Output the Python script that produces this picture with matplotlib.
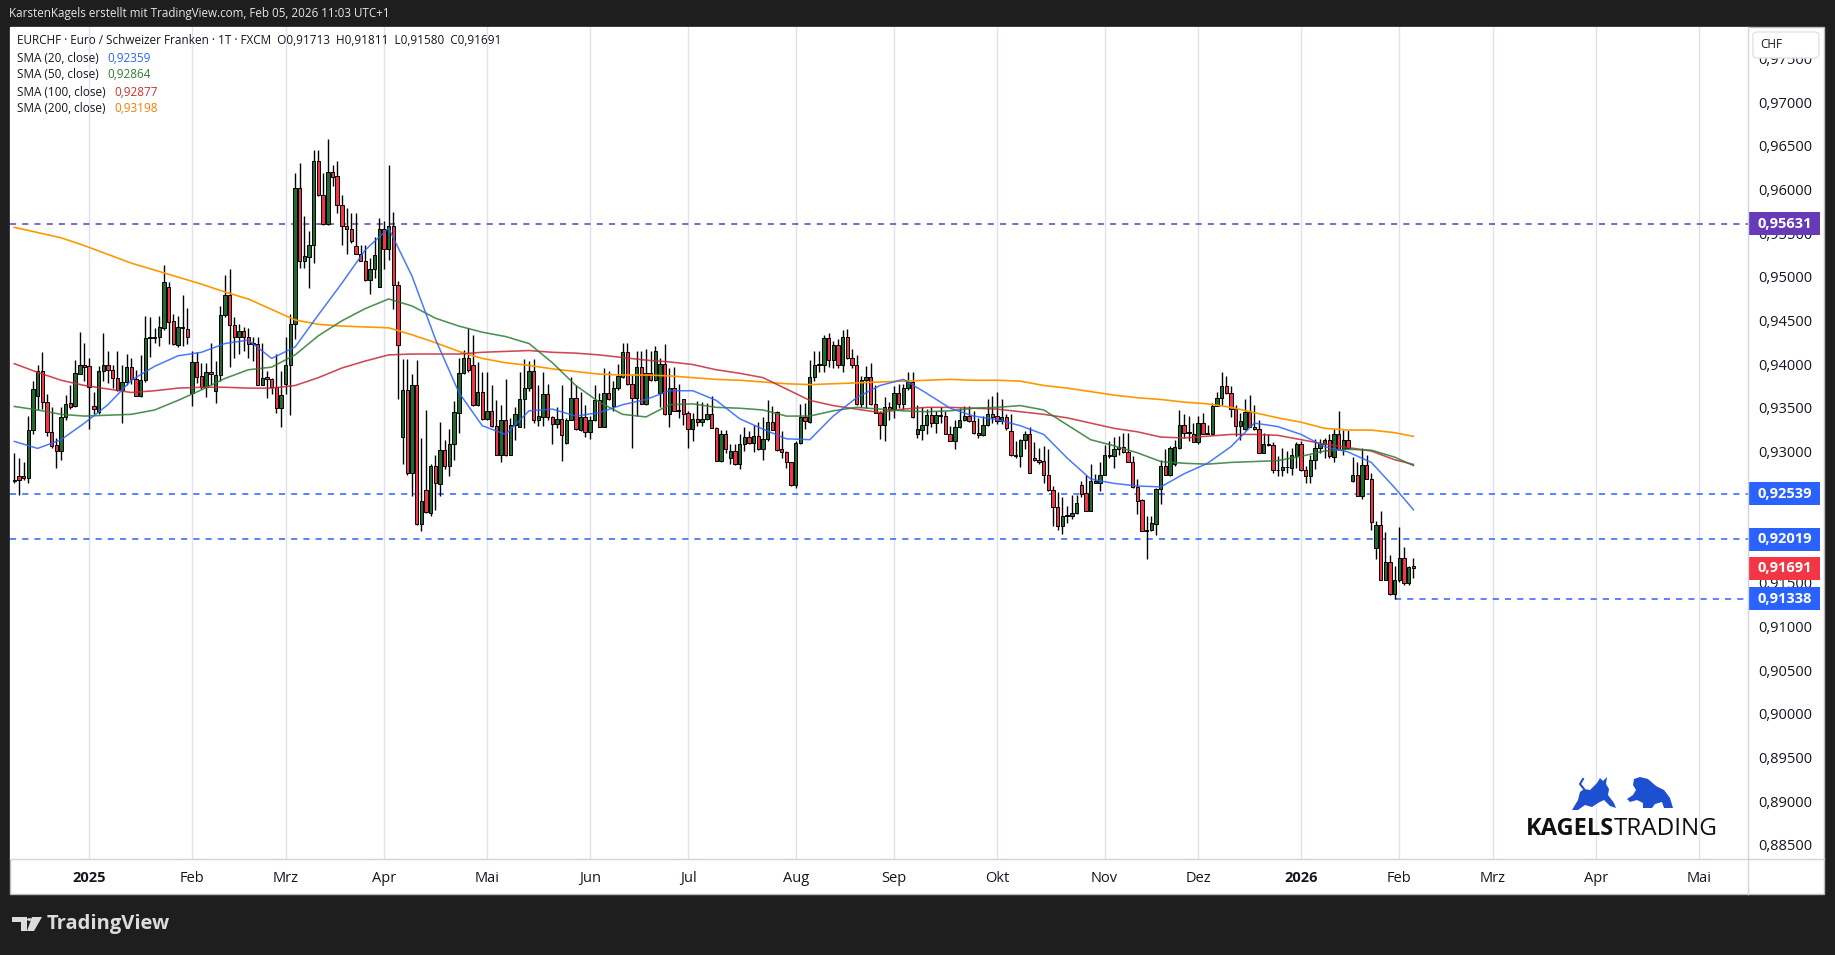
import matplotlib
matplotlib.use('Agg')
import matplotlib.pyplot as plt
from matplotlib.patches import Rectangle, FancyBboxPatch, Polygon, Circle
import numpy as np
import pandas as pd

plt.rcParams['font.family'] = ['Open Sans', 'DejaVu Sans']

W, H = 1835, 955

# EURCHF daily candles, 09.12.2024 - 05.02.2026
opens = [
    0.9270, 0.9274, 0.9274, 0.9272, 0.9327, 0.9366, 0.9395, 0.9359, 0.9325, 0.9310,
    0.9303, 0.9342, 0.9358, 0.9354, 0.9391, 0.9401, 0.9400, 0.9355, 0.9348, 0.9395,
    0.9401, 0.9396, 0.9387, 0.9373, 0.9382, 0.9399, 0.9385, 0.9366, 0.9384, 0.9432,
    0.9433, 0.9433, 0.9444, 0.9491, 0.9452, 0.9424, 0.9445, 0.9443, 0.9369, 0.9405,
    0.9389, 0.9376, 0.9393, 0.9372, 0.9390, 0.9459, 0.9482, 0.9447, 0.9433, 0.9440,
    0.9433, 0.9426, 0.9426, 0.9379, 0.9388, 0.9385, 0.9376, 0.9352, 0.9380, 0.9401,
    0.9448, 0.9604, 0.9521, 0.9525, 0.9539, 0.9635, 0.9596, 0.9563, 0.9622, 0.9618,
    0.9584, 0.9561, 0.9557, 0.9538, 0.9529, 0.9520, 0.9499, 0.9511, 0.9491, 0.9557,
    0.9534, 0.9561, 0.9493, 0.9319, 0.9373, 0.9278, 0.9379, 0.9219, 0.9258, 0.9232,
    0.9286, 0.9265, 0.9304, 0.9286, 0.9311, 0.9347, 0.9392, 0.9409, 0.9401, 0.9356,
    0.9370, 0.9340, 0.9349, 0.9332, 0.9299, 0.9339, 0.9299, 0.9333, 0.9330, 0.9363,
    0.9375, 0.9395, 0.9339, 0.9342, 0.9368, 0.9342, 0.9334, 0.9340, 0.9312, 0.9339,
    0.9364, 0.9327, 0.9342, 0.9325, 0.9338, 0.9361, 0.9331, 0.9369, 0.9354, 0.9375,
    0.9388, 0.9416, 0.9380, 0.9364, 0.9399, 0.9357, 0.9392, 0.9384, 0.9369, 0.9403,
    0.9345, 0.9375, 0.9349, 0.9362, 0.9346, 0.9328, 0.9340, 0.9336, 0.9340, 0.9345,
    0.9329, 0.9292, 0.9322, 0.9295, 0.9303, 0.9288, 0.9311, 0.9319, 0.9312, 0.9320,
    0.9305, 0.9317, 0.9336, 0.9348, 0.9305, 0.9302, 0.9290, 0.9264, 0.9312, 0.9342,
    0.9336, 0.9388, 0.9402, 0.9402, 0.9432, 0.9407, 0.9424, 0.9402, 0.9433, 0.9409,
    0.9402, 0.9357, 0.9384, 0.9388, 0.9357, 0.9347, 0.9333, 0.9353, 0.9351, 0.9369,
    0.9357, 0.9375, 0.9382, 0.9322, 0.9327, 0.9333, 0.9344, 0.9335, 0.9344, 0.9343,
    0.9323, 0.9315, 0.9330, 0.9338, 0.9343, 0.9337, 0.9324, 0.9321, 0.9333, 0.9345,
    0.9343, 0.9337, 0.9342, 0.9326, 0.9299, 0.9297, 0.9316, 0.9322, 0.9295, 0.9293,
    0.9292, 0.9276, 0.9258, 0.9239, 0.9217, 0.9229, 0.9229, 0.9232, 0.9264, 0.9255,
    0.9234, 0.9267, 0.9267, 0.9276, 0.9298, 0.9297, 0.9305, 0.9308, 0.9302, 0.9291,
    0.9262, 0.9247, 0.9213, 0.9213, 0.9220, 0.9259, 0.9286, 0.9276, 0.9288, 0.9307,
    0.9333, 0.9324, 0.9323, 0.9313, 0.9335, 0.9323, 0.9323, 0.9355, 0.9364, 0.9377,
    0.9369, 0.9351, 0.9332, 0.9328, 0.9348, 0.9331, 0.9328, 0.9301, 0.9311, 0.9310,
    0.9281, 0.9281, 0.9285, 0.9284, 0.9297, 0.9311, 0.9281, 0.9274, 0.9293, 0.9306,
    0.9311, 0.9316, 0.9296, 0.9322, 0.9305, 0.9316, 0.9269, 0.9276, 0.9252, 0.9287,
    0.9271, 0.9192, 0.9218, 0.9156, 0.9176, 0.9139, 0.9155, 0.9181, 0.9152, 0.91713,
]
highs = [
    0.9301, 0.9295, 0.9290, 0.9343, 0.9383, 0.9402, 0.9416, 0.9368, 0.9353, 0.9318,
    0.9353, 0.9367, 0.9379, 0.9407, 0.9439, 0.9427, 0.9410, 0.9371, 0.9400, 0.9438,
    0.9417, 0.9401, 0.9417, 0.9402, 0.9414, 0.9410, 0.9396, 0.9413, 0.9457, 0.9456,
    0.9444, 0.9457, 0.9516, 0.9496, 0.9460, 0.9457, 0.9482, 0.9467, 0.9418, 0.9416,
    0.9404, 0.9404, 0.9427, 0.9406, 0.9469, 0.9505, 0.9511, 0.9456, 0.9448, 0.9445,
    0.9444, 0.9433, 0.9433, 0.9427, 0.9395, 0.9387, 0.9414, 0.9395, 0.9433, 0.9460,
    0.9621, 0.9633, 0.9572, 0.9555, 0.9647, 0.9647, 0.9621, 0.9660, 0.9630, 0.9635,
    0.9596, 0.9581, 0.9575, 0.9575, 0.9539, 0.9539, 0.9524, 0.9548, 0.9570, 0.9566,
    0.9630, 0.9577, 0.9498, 0.9408, 0.9408, 0.9391, 0.9407, 0.9318, 0.9350, 0.9288,
    0.9299, 0.9336, 0.9316, 0.9328, 0.9360, 0.9410, 0.9419, 0.9444, 0.9436, 0.9405,
    0.9393, 0.9394, 0.9379, 0.9361, 0.9356, 0.9386, 0.9341, 0.9353, 0.9393, 0.9408,
    0.9406, 0.9408, 0.9379, 0.9394, 0.9380, 0.9343, 0.9353, 0.9378, 0.9341, 0.9388,
    0.9379, 0.9371, 0.9356, 0.9343, 0.9379, 0.9369, 0.9398, 0.9395, 0.9383, 0.9403,
    0.9427, 0.9427, 0.9390, 0.9417, 0.9417, 0.9420, 0.9417, 0.9423, 0.9409, 0.9426,
    0.9398, 0.9399, 0.9380, 0.9362, 0.9349, 0.9347, 0.9360, 0.9359, 0.9358, 0.9366,
    0.9330, 0.9327, 0.9327, 0.9311, 0.9311, 0.9322, 0.9330, 0.9326, 0.9333, 0.9336,
    0.9342, 0.9361, 0.9354, 0.9349, 0.9326, 0.9303, 0.9291, 0.9314, 0.9357, 0.9358,
    0.9407, 0.9417, 0.9418, 0.9436, 0.9438, 0.9429, 0.9431, 0.9441, 0.9443, 0.9420,
    0.9413, 0.9389, 0.9400, 0.9404, 0.9379, 0.9349, 0.9365, 0.9359, 0.9377, 0.9380,
    0.9380, 0.9394, 0.9394, 0.9356, 0.9353, 0.9351, 0.9353, 0.9349, 0.9353, 0.9349,
    0.9332, 0.9339, 0.9352, 0.9354, 0.9354, 0.9349, 0.9341, 0.9343, 0.9363, 0.9366,
    0.9371, 0.9362, 0.9345, 0.9345, 0.9314, 0.9317, 0.9326, 0.9330, 0.9313, 0.9307,
    0.9309, 0.9305, 0.9263, 0.9256, 0.9250, 0.9240, 0.9253, 0.9253, 0.9269, 0.9276,
    0.9288, 0.9277, 0.9290, 0.9310, 0.9315, 0.9319, 0.9320, 0.9324, 0.9324, 0.9297,
    0.9271, 0.9248, 0.9229, 0.9229, 0.9261, 0.9293, 0.9305, 0.9309, 0.9316, 0.9350,
    0.9345, 0.9343, 0.9335, 0.9343, 0.9347, 0.9333, 0.9358, 0.9371, 0.9394, 0.9389,
    0.9377, 0.9356, 0.9347, 0.9362, 0.9367, 0.9356, 0.9338, 0.9324, 0.9323, 0.9313,
    0.9297, 0.9306, 0.9303, 0.9307, 0.9313, 0.9314, 0.9286, 0.9299, 0.9317, 0.9317,
    0.9318, 0.9322, 0.9328, 0.9349, 0.9327, 0.9327, 0.9296, 0.9290, 0.9306, 0.9299,
    0.9278, 0.9223, 0.9234, 0.9210, 0.9184, 0.9171, 0.9216, 0.9193, 0.9171, 0.91811,
]
lows = [
    0.9266, 0.9253, 0.9270, 0.9266, 0.9322, 0.9350, 0.9351, 0.9320, 0.9306, 0.9284,
    0.9293, 0.9339, 0.9351, 0.9353, 0.9391, 0.9383, 0.9328, 0.9345, 0.9345, 0.9383,
    0.9381, 0.9375, 0.9372, 0.9335, 0.9379, 0.9380, 0.9366, 0.9365, 0.9382, 0.9411,
    0.9427, 0.9423, 0.9442, 0.9426, 0.9424, 0.9422, 0.9423, 0.9426, 0.9355, 0.9381,
    0.9374, 0.9365, 0.9379, 0.9358, 0.9383, 0.9456, 0.9399, 0.9410, 0.9414, 0.9417,
    0.9410, 0.9406, 0.9378, 0.9378, 0.9364, 0.9368, 0.9346, 0.9331, 0.9368, 0.9344,
    0.9431, 0.9513, 0.9513, 0.9489, 0.9518, 0.9595, 0.9562, 0.9562, 0.9606, 0.9575,
    0.9539, 0.9529, 0.9541, 0.9528, 0.9520, 0.9497, 0.9483, 0.9501, 0.9491, 0.9511,
    0.9522, 0.9466, 0.9362, 0.9288, 0.9276, 0.9251, 0.9218, 0.9211, 0.9232, 0.9229,
    0.9236, 0.9251, 0.9283, 0.9274, 0.9293, 0.9324, 0.9391, 0.9394, 0.9354, 0.9354,
    0.9339, 0.9338, 0.9330, 0.9298, 0.9291, 0.9297, 0.9298, 0.9316, 0.9330, 0.9329,
    0.9372, 0.9335, 0.9332, 0.9332, 0.9338, 0.9311, 0.9329, 0.9292, 0.9311, 0.9338,
    0.9327, 0.9326, 0.9319, 0.9317, 0.9337, 0.9330, 0.9331, 0.9361, 0.9349, 0.9373,
    0.9387, 0.9379, 0.9306, 0.9343, 0.9357, 0.9356, 0.9383, 0.9383, 0.9353, 0.9344,
    0.9331, 0.9349, 0.9341, 0.9333, 0.9306, 0.9314, 0.9332, 0.9332, 0.9339, 0.9329,
    0.9292, 0.9291, 0.9301, 0.9288, 0.9287, 0.9282, 0.9303, 0.9311, 0.9302, 0.9304,
    0.9293, 0.9314, 0.9327, 0.9303, 0.9295, 0.9284, 0.9263, 0.9261, 0.9311, 0.9328,
    0.9335, 0.9383, 0.9394, 0.9394, 0.9399, 0.9398, 0.9398, 0.9394, 0.9408, 0.9398,
    0.9356, 0.9353, 0.9352, 0.9356, 0.9346, 0.9317, 0.9314, 0.9339, 0.9341, 0.9352,
    0.9351, 0.9373, 0.9341, 0.9318, 0.9316, 0.9322, 0.9330, 0.9324, 0.9335, 0.9322,
    0.9314, 0.9305, 0.9329, 0.9337, 0.9336, 0.9323, 0.9318, 0.9320, 0.9332, 0.9335,
    0.9334, 0.9334, 0.9327, 0.9297, 0.9295, 0.9285, 0.9305, 0.9278, 0.9292, 0.9288,
    0.9266, 0.9257, 0.9217, 0.9213, 0.9208, 0.9221, 0.9225, 0.9231, 0.9250, 0.9234,
    0.9234, 0.9266, 0.9257, 0.9276, 0.9295, 0.9284, 0.9298, 0.9301, 0.9290, 0.9261,
    0.9231, 0.9211, 0.9179, 0.9211, 0.9207, 0.9242, 0.9276, 0.9274, 0.9286, 0.9305,
    0.9318, 0.9314, 0.9313, 0.9311, 0.9322, 0.9322, 0.9322, 0.9355, 0.9356, 0.9368,
    0.9342, 0.9320, 0.9316, 0.9327, 0.9330, 0.9327, 0.9301, 0.9301, 0.9309, 0.9278,
    0.9274, 0.9274, 0.9278, 0.9276, 0.9284, 0.9280, 0.9266, 0.9267, 0.9283, 0.9301,
    0.9295, 0.9295, 0.9290, 0.9305, 0.9299, 0.9305, 0.9268, 0.9252, 0.9248, 0.9271,
    0.9213, 0.9179, 0.9155, 0.9155, 0.9138, 0.91338, 0.9153, 0.9150, 0.9150, 0.91580,
]
closes = [
    0.9269, 0.9270, 0.9272, 0.9327, 0.9374, 0.9395, 0.9359, 0.9325, 0.9309, 0.9303,
    0.9342, 0.9357, 0.9353, 0.9392, 0.9401, 0.9399, 0.9376, 0.9351, 0.9395, 0.9401,
    0.9396, 0.9387, 0.9373, 0.9382, 0.9399, 0.9385, 0.9366, 0.9384, 0.9432, 0.9433,
    0.9432, 0.9445, 0.9496, 0.9451, 0.9425, 0.9445, 0.9444, 0.9433, 0.9405, 0.9388,
    0.9376, 0.9393, 0.9391, 0.9390, 0.9459, 0.9482, 0.9447, 0.9433, 0.9440, 0.9433,
    0.9425, 0.9427, 0.9379, 0.9387, 0.9385, 0.9376, 0.9352, 0.9367, 0.9401, 0.9448,
    0.9604, 0.9521, 0.9526, 0.9539, 0.9635, 0.9596, 0.9563, 0.9622, 0.9617, 0.9584,
    0.9561, 0.9557, 0.9543, 0.9529, 0.9520, 0.9499, 0.9511, 0.9527, 0.9557, 0.9534,
    0.9561, 0.9493, 0.9424, 0.9373, 0.9278, 0.9379, 0.9219, 0.9246, 0.9233, 0.9286,
    0.9267, 0.9304, 0.9286, 0.9311, 0.9348, 0.9392, 0.9409, 0.9396, 0.9356, 0.9370,
    0.9340, 0.9349, 0.9332, 0.9299, 0.9339, 0.9299, 0.9333, 0.9345, 0.9363, 0.9375,
    0.9395, 0.9339, 0.9343, 0.9368, 0.9342, 0.9334, 0.9340, 0.9321, 0.9339, 0.9364,
    0.9328, 0.9342, 0.9325, 0.9338, 0.9361, 0.9331, 0.9369, 0.9362, 0.9375, 0.9389,
    0.9416, 0.9380, 0.9364, 0.9399, 0.9357, 0.9392, 0.9384, 0.9417, 0.9403, 0.9345,
    0.9375, 0.9349, 0.9350, 0.9345, 0.9328, 0.9340, 0.9336, 0.9340, 0.9345, 0.9329,
    0.9292, 0.9322, 0.9305, 0.9303, 0.9288, 0.9311, 0.9319, 0.9312, 0.9320, 0.9305,
    0.9317, 0.9336, 0.9327, 0.9304, 0.9302, 0.9290, 0.9264, 0.9312, 0.9342, 0.9337,
    0.9388, 0.9402, 0.9402, 0.9432, 0.9407, 0.9424, 0.9402, 0.9433, 0.9409, 0.9402,
    0.9357, 0.9384, 0.9388, 0.9357, 0.9347, 0.9333, 0.9353, 0.9351, 0.9369, 0.9357,
    0.9375, 0.9382, 0.9342, 0.9328, 0.9333, 0.9344, 0.9335, 0.9344, 0.9343, 0.9323,
    0.9315, 0.9331, 0.9338, 0.9343, 0.9337, 0.9324, 0.9321, 0.9333, 0.9345, 0.9342,
    0.9337, 0.9342, 0.9329, 0.9298, 0.9297, 0.9316, 0.9322, 0.9278, 0.9293, 0.9291,
    0.9276, 0.9258, 0.9239, 0.9217, 0.9229, 0.9230, 0.9232, 0.9243, 0.9254, 0.9234,
    0.9269, 0.9269, 0.9276, 0.9298, 0.9298, 0.9305, 0.9308, 0.9302, 0.9291, 0.9262,
    0.9246, 0.9211, 0.9211, 0.9221, 0.9259, 0.9286, 0.9276, 0.9307, 0.9308, 0.9333,
    0.9324, 0.9324, 0.9313, 0.9335, 0.9323, 0.9323, 0.9355, 0.9364, 0.9377, 0.9369,
    0.9351, 0.9332, 0.9337, 0.9348, 0.9331, 0.9328, 0.9301, 0.9311, 0.9310, 0.9281,
    0.9281, 0.9285, 0.9285, 0.9298, 0.9311, 0.9281, 0.9274, 0.9293, 0.9306, 0.9311,
    0.9316, 0.9297, 0.9322, 0.9305, 0.9316, 0.9306, 0.9276, 0.9252, 0.9287, 0.9271,
    0.9222, 0.9218, 0.9156, 0.9176, 0.9139, 0.9155, 0.9181, 0.9152, 0.9170, 0.91691,
]

# moving averages, read every 5th bar (+ last bar)
sma_bars = list(range(0, 300, 5)) + [299]
sma20 = [
    0.9314, 0.9306, 0.9316, 0.9335, 0.9356, 0.9384, 0.9400, 0.9412, 0.9416, 0.9426,
    0.9430, 0.9409, 0.9422, 0.9459, 0.9495, 0.9533, 0.9558, 0.9503, 0.9431, 0.9370,
    0.9332, 0.9322, 0.9349, 0.9351, 0.9343, 0.9347, 0.9356, 0.9362, 0.9372, 0.9372,
    0.9361, 0.9340, 0.9328, 0.9317, 0.9316, 0.9343, 0.9364, 0.9378, 0.9385, 0.9369,
    0.9352, 0.9343, 0.9339, 0.9332, 0.9322, 0.9295, 0.9271, 0.9266, 0.9263, 0.9262,
    0.9277, 0.9289, 0.9308, 0.9335, 0.9331, 0.9322, 0.9308, 0.9302, 0.9290, 0.9261,
    0.92359,
]
sma50 = [
    0.9354, 0.9350, 0.9345, 0.9343, 0.9344, 0.9345, 0.9350, 0.9361, 0.9373, 0.9386,
    0.9396, 0.9399, 0.9413, 0.9435, 0.9452, 0.9466, 0.9477, 0.9469, 0.9455, 0.9446,
    0.9439, 0.9434, 0.9426, 0.9404, 0.9378, 0.9359, 0.9345, 0.9342, 0.9356, 0.9357,
    0.9353, 0.9352, 0.9350, 0.9343, 0.9343, 0.9349, 0.9353, 0.9351, 0.9349, 0.9348,
    0.9349, 0.9352, 0.9353, 0.9355, 0.9350, 0.9333, 0.9316, 0.9309, 0.9301, 0.9291,
    0.9289, 0.9288, 0.9290, 0.9291, 0.9292, 0.9297, 0.9303, 0.9305, 0.9304, 0.9296,
    0.92864,
]
sma100 = [
    0.9403, 0.9393, 0.9384, 0.9378, 0.9374, 0.9370, 0.9372, 0.9375, 0.9376, 0.9376,
    0.9375, 0.9375, 0.9378, 0.9387, 0.9398, 0.9406, 0.9413, 0.9414, 0.9414, 0.9414,
    0.9416, 0.9417, 0.9418, 0.9416, 0.9415, 0.9413, 0.9410, 0.9407, 0.9405, 0.9402,
    0.9396, 0.9392, 0.9387, 0.9374, 0.9361, 0.9355, 0.9351, 0.9347, 0.9351, 0.9353,
    0.9353, 0.9352, 0.9351, 0.9348, 0.9345, 0.9341, 0.9335, 0.9329, 0.9325, 0.9319,
    0.9318, 0.9320, 0.9322, 0.9322, 0.9321, 0.9316, 0.9311, 0.9307, 0.9303, 0.9293,
    0.92877,
]
sma200 = [
    0.9559, 0.9553, 0.9547, 0.9538, 0.9528, 0.9518, 0.9510, 0.9502, 0.9494, 0.9485,
    0.9477, 0.9465, 0.9453, 0.9448, 0.9446, 0.9445, 0.9444, 0.9436, 0.9427, 0.9417,
    0.9409, 0.9404, 0.9401, 0.9397, 0.9394, 0.9391, 0.9390, 0.9390, 0.9389, 0.9387,
    0.9385, 0.9384, 0.9382, 0.9380, 0.9379, 0.9380, 0.9381, 0.9382, 0.9383, 0.9384,
    0.9385, 0.9384, 0.9384, 0.9383, 0.9378, 0.9375, 0.9371, 0.9367, 0.9364, 0.9362,
    0.9359, 0.9357, 0.9353, 0.9347, 0.9341, 0.9336, 0.9329, 0.9327, 0.9327, 0.9324,
    0.93198,
]

# price levels marked on the chart
level_purple = 0.95631
levels_blue = [0.92539, 0.92019]
level_low = 0.91338
low_bar = 295
last_close = 0.91691

month_names = {2: 'Feb', 3: 'Mrz', 4: 'Apr', 5: 'Mai', 6: 'Jun', 7: 'Jul',
               8: 'Aug', 9: 'Sep', 10: 'Okt', 11: 'Nov', 12: 'Dez'}

UP = '#1f6b2e'
DOWN = '#f23645'
TXT = '#131722'
BG = '#1e1e1e'


def fx(px):
    return px / W


def fy(py):
    return 1 - py / H


fig = plt.figure(figsize=(W / 100, H / 100), dpi=100, facecolor=BG)

# white chart panel (behind the axes)
fig.patches.append(Rectangle((fx(10), fy(894)), fx(1824) - fx(10), fy(27) - fy(894),
                             transform=fig.transFigure, facecolor='white',
                             edgecolor='#b8bbc2', lw=1, zorder=-5))

ax = fig.add_axes([fx(10), fy(859), fx(1748) - fx(10), fy(27) - fy(859)])
ax.set_facecolor('white')
for s in ax.spines.values():
    s.set_visible(False)

ymin, ymax = 0.88362, 0.97882
xmin, xmax = -0.92, 370.5
ax.set_xlim(xmin, xmax)
ax.set_ylim(ymin, ymax)

# trading days, FXCM skips 25.12. and 01.01.
dates = pd.bdate_range('2024-12-09', '2026-05-29')
dates = dates[~(((dates.month == 12) & (dates.day == 25)) | ((dates.month == 1) & (dates.day == 1)))]
month_pos, month_lab = [], []
for k in range(1, len(dates)):
    if dates[k].month != dates[k - 1].month:
        month_pos.append(k)
        month_lab.append(str(dates[k].year) if dates[k].month == 1 else month_names[dates[k].month])

for p in month_pos:
    ax.axvline(p, color='#e0e3eb', lw=1, zorder=1)

ax.set_xticks(month_pos)
ax.set_xticklabels(month_lab, fontsize=10.5, color=TXT)
for t in ax.get_xticklabels():
    if t.get_text().isdigit():
        t.set_fontweight('bold')
ax.tick_params(axis='x', length=0, pad=8.5)
ax.set_yticks([])

# candles
o = np.array(opens)
h = np.array(highs)
l = np.array(lows)
c = np.array(closes)
xs = np.arange(len(c))
cols = np.where(c >= o, UP, DOWN)
ax.vlines(xs, l, h, color='black', lw=1.0, zorder=3)
body = np.maximum(np.abs(c - o), 0.00005)
mid = (o + c) / 2
ax.bar(xs, body, bottom=mid - body / 2, width=0.72, color=cols,
       edgecolor='black', linewidth=0.7, zorder=4)

# moving averages
ax.plot(sma_bars, sma200, color='#ff9800', lw=1.2, zorder=5)
ax.plot(sma_bars, sma100, color='#c62834', lw=1.15, alpha=0.85, zorder=5)
ax.plot(sma_bars, sma50, color='#2e7d32', lw=1.15, alpha=0.85, zorder=5)
ax.plot(sma_bars, sma20, color='#2962ff', lw=1.1, alpha=0.85, zorder=5)

# horizontal levels
ax.axhline(level_purple, color='#673ab7', lw=1.1, ls=(0, (4, 4)), zorder=2)
for lv in levels_blue:
    ax.axhline(lv, color='#2962ff', lw=1.1, ls=(0, (4, 4)), zorder=2)
ax.hlines(level_low, low_bar, xmax, color='#2962ff', lw=1.1, ls=(0, (4, 4)), zorder=2)

# price scale
axp = fig.add_axes([fx(1748), fy(859), fx(1824) - fx(1748), fy(27) - fy(859)])
axp.set_xlim(0, 76)
axp.set_ylim(ymin, ymax)
axp.axis('off')
for v in np.arange(0.885, 0.9751, 0.005):
    axp.text(10, v, f'{v:.5f}'.replace('.', ','), fontsize=10.5, color=TXT,
             va='center', ha='left', zorder=1)

px_val = (ymax - ymin) / (859 - 27)
box_h = 23 * px_val
tags = [(level_purple, '#673ab7'), (levels_blue[0], '#2962ff'),
        (levels_blue[1], '#2962ff'), (last_close, '#f23645'), (level_low, '#2962ff')]
for v, colr in tags:
    axp.add_patch(Rectangle((0, v - box_h / 2), 72, box_h, facecolor=colr,
                            edgecolor='none', zorder=3))
    axp.text(9, v, f'{v:.5f}'.replace('.', ','), fontsize=10.5, color='white',
             fontweight='bold', va='center', ha='left', zorder=4)

# separators
fig.add_artist(plt.Line2D([fx(1748), fx(1748)], [fy(27), fy(894)], color='#d1d4dc', lw=1))
fig.add_artist(plt.Line2D([fx(10), fx(1824)], [fy(859), fy(859)], color='#d1d4dc', lw=1))

# CHF box
fig.patches.append(FancyBboxPatch((fx(1753), fy(58)), fx(1819) - fx(1753), fy(32) - fy(58),
                                  boxstyle='round,pad=0,rounding_size=0.003',
                                  transform=fig.transFigure, facecolor='white',
                                  edgecolor='#e0e3eb', lw=1, zorder=5))
fig.text(fx(1760), fy(44), 'CHF', fontsize=8.5, color=TXT, va='center', zorder=6)

# header
fig.text(fx(9), fy(14), 'KarstenKagels erstellt mit TradingView.com, Feb 05, 2026 11:03 UTC+1',
         fontsize=8.4, color='#e6e6e6', va='center')

# legend block
fig.text(fx(17), fy(41), 'EURCHF · Euro / Schweizer Franken · 1T · FXCM  O0,91713  H0,91811  L0,91580  C0,91691',
         fontsize=8.5, color=TXT, va='center')
legend_rows = [('SMA (20, close)', '0,92359', '#2962ff', 107),
               ('SMA (50, close)', '0,92864', '#2e7d32', 107),
               ('SMA (100, close)', '0,92877', '#d32f2f', 114),
               ('SMA (200, close)', '0,93198', '#f57c00', 114)]
for k, (lab, val, colr, vx) in enumerate(legend_rows):
    yy = 58 + k * 17
    fig.text(fx(17), fy(yy), lab, fontsize=8.5, color=TXT, va='center')
    fig.text(fx(vx), fy(yy), val, fontsize=8.5, color=colr, va='center')

# KAGELS TRADING watermark
logo_blue = '#1d4fd1'
bull = [(1572, 810), (1578, 800), (1580, 792), (1584, 789), (1590, 790), (1597, 783),
        (1600, 778), (1603, 781), (1607, 777), (1606, 784), (1609, 789), (1608, 795),
        (1614, 803), (1616, 808), (1610, 806), (1604, 800), (1598, 803), (1592, 807),
        (1585, 805), (1578, 810)]
bear = [(1627, 799), (1633, 795), (1636, 790), (1633, 785), (1634, 779), (1640, 777),
        (1648, 779), (1656, 786), (1664, 790), (1670, 798), (1673, 808), (1664, 808),
        (1662, 802), (1655, 804), (1652, 808), (1643, 808), (1643, 803), (1637, 800),
        (1630, 802)]
for shape in (bull, bear):
    fig.patches.append(Polygon([(fx(a), fy(b)) for a, b in shape], closed=True,
                               transform=fig.transFigure, facecolor=logo_blue,
                               edgecolor='none', zorder=6))
fig.add_artist(plt.Line2D([fx(1584), fx(1580), fx(1583)], [fy(789), fy(784), fy(779)],
                          color=logo_blue, lw=1.5))
fig.text(fx(1526), fy(829), 'KAGELS', fontsize=17, fontweight='bold', color='#111111',
         va='center', ha='left')
fig.text(fx(1614), fy(829), 'TRADING', fontsize=17.5, color='#111111',
         va='center', ha='left')

# TradingView footer
tvc = '#dcdcdc'
fig.patches.append(Polygon([(fx(12), fy(917)), (fx(27), fy(917)), (fx(27), fy(931)),
                            (fx(21), fy(931)), (fx(21), fy(922)), (fx(12), fy(922))],
                           closed=True, transform=fig.transFigure, facecolor=tvc, edgecolor='none'))
fig.patches.append(Circle((fx(29.5), fy(919.5)), 2.6 / W, transform=fig.transFigure,
                          facecolor=tvc, edgecolor='none'))
fig.patches.append(Polygon([(fx(32), fy(917)), (fx(42), fy(917)), (fx(34), fy(931)),
                            (fx(27), fy(931))], closed=True, transform=fig.transFigure,
                           facecolor=tvc, edgecolor='none'))
fig.text(fx(47), fy(924), 'TradingView', fontsize=14.5, fontweight='bold', color=tvc,
         va='center', ha='left')

fig.savefig('out.png', dpi=100, facecolor=BG)
